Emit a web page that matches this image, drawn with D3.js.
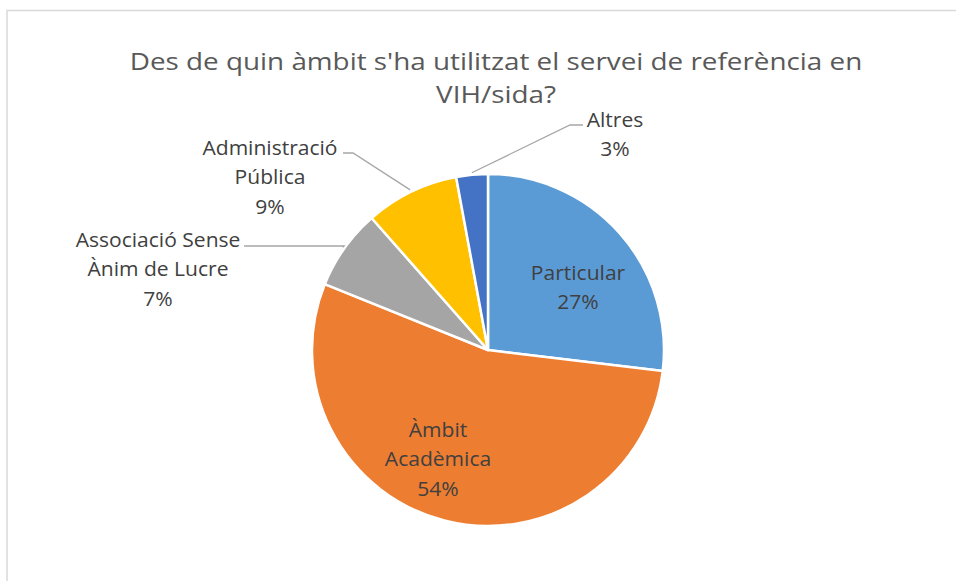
<!DOCTYPE html>
<html>
<head>
<meta charset="utf-8">
<script src="https://cdn.jsdelivr.net/npm/d3@7"></script>
<style>
  html, body { margin: 0; padding: 0; background: #fff; }
  svg { display: block; }
</style>
</head>
<body>
<div id="chart"></div>
<script>
// Chart data (shares, in %)
const categories = ["Particular", "Àmbit Acadèmica", "Associació Sense Ànim de Lucre", "Administració Pública", "Altres"];
const values = [26.9, 54.2, 7.4, 8.6, 2.9];
const colors = ["#5B9BD5", "#ED7D31", "#A5A5A5", "#FFC000", "#4472C4"];
// label lines as shown on the chart
const labelLines = [["Particular"], ["Àmbit", "Acadèmica"], ["Associació Sense", "Ànim de Lucre"], ["Administració", "Pública"], ["Altres"]];
const titleLines = ["Des de quin àmbit s'ha utilitzat el servei de referència en", "VIH/sida?"];

const W = 956, H = 581;
const cx = 488, cy = 350, radius = 176;

// label layout (relative to pie center): x, y of first baseline, leader elbow
const labelLayout = [
    { x: 90, y: -70, inside: true },
    { x: -50, y: 87, inside: true },
    { x: -330, y: -103, elbow: [-144, -104], lineEnd: [-244, -104] },
    { x: -218, y: -195, elbow: [-135, -197], lineEnd: [-145, -197] },
    { x: 127, y: -223, elbow: [82, -225], lineEnd: [95, -225] }
];

const svg = d3.select("#chart")
    .append("svg")
    .attr("width", W)
    .attr("height", H);

// chart area border (only top and left visible)
svg.append("path")
    .attr("d", `M7,${H} L7,10.5 L${W},10.5`)
    .attr("fill", "none")
    .attr("stroke", "#d9d9d9")
    .attr("stroke-width", 1.5);

// title (stretched a little to match the original narrow face)
const title = svg.append("text")
    .attr("transform", "translate(496,70) scale(1.16,1)")
    .attr("text-anchor", "middle")
    .style("font-family", "'Open Sans', sans-serif")
    .style("font-size", "24px")
    .attr("fill", "#595959");
title.selectAll("tspan")
    .data(titleLines)
    .enter()
    .append("tspan")
    .attr("x", 0)
    .attr("y", (d, i) => i * 33)
    .text(d => d);

const pie = d3.pie().sort(null).value(d => d)
    .startAngle(0).endAngle(2 * Math.PI);
const arc = d3.arc().innerRadius(0).outerRadius(radius);
const arcs = pie(values);

const g = svg.append("g").attr("transform", `translate(${cx},${cy})`);

g.selectAll("path.slice")
    .data(arcs)
    .enter()
    .append("path")
    .attr("class", "slice")
    .attr("d", arc)
    .attr("fill", (d, i) => colors[i])
    .attr("stroke", "#fff")
    .attr("stroke-width", 2.5)
    .attr("stroke-linejoin", "round");

// leader lines for outside labels
arcs.forEach((d, i) => {
    const L = labelLayout[i];
    if (L.inside) return;
    const mid = (d.startAngle + d.endAngle) / 2;
    const r0 = radius + 2;
    const start = [Math.sin(mid) * r0, -Math.cos(mid) * r0];
    g.append("polyline")
        .attr("points", [start, L.elbow, L.lineEnd].map(p => p.join(",")).join(" "))
        .attr("fill", "none")
        .attr("stroke", "#a6a6a6")
        .attr("stroke-width", 1.3);
});

// labels
arcs.forEach((d, i) => {
    const L = labelLayout[i];
    const lines = labelLines[i].concat([Math.round(values[i]) + "%"]);
    const t = g.append("text")
        .attr("transform", `translate(${L.x},${L.y}) scale(1.08,1)`)
        .attr("text-anchor", "middle")
        .style("font-family", "'Open Sans', sans-serif")
        .style("font-size", "19.5px")
        .attr("fill", "#404040");
    lines.forEach((s, j) => {
        t.append("tspan")
            .attr("x", 0)
            .attr("y", j * 29.5)
            .text(s);
    });
});
</script>
</body>
</html>
